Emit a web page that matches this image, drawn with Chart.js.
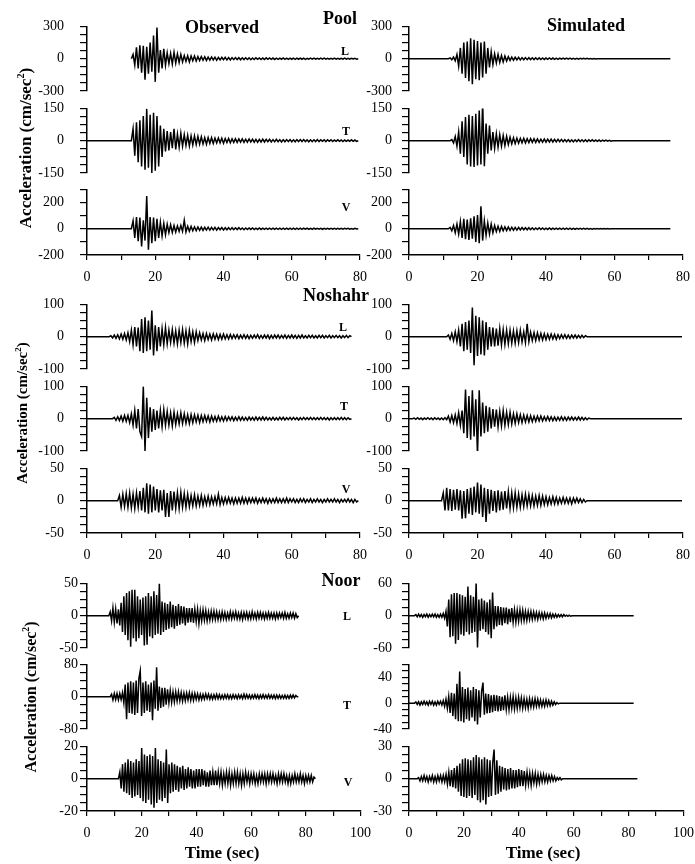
<!DOCTYPE html>
<html>
<head>
<meta charset="utf-8">
<script src="https://cdn.jsdelivr.net/npm/chart.js@4.4.1/dist/chart.umd.min.js"></script>
<style>
  html, body { margin: 0; padding: 0; background: #fff; }
  #page { position: relative; width: 695px; height: 864px; overflow: hidden;
          font-family: "Liberation Serif", "Times New Roman", serif; color: #000; }
  canvas { position: absolute; }
  .lbl { position: absolute; transform: translate(-50%, -50%); white-space: nowrap;
         font-weight: bold; line-height: 1; }
  .ytitle { position: absolute; transform: translate(-50%, -50%) rotate(-90deg);
            white-space: nowrap; font-weight: bold; line-height: 1; }
  .ytitle sup { font-size: 0.6em; }
</style>
</head>
<body>
<div id="page"></div>
<script>
// samples are 0.5 s apart, starting at the *Start time of each trace
const dt = 0.5;
const components = ['L', 'T', 'V'];

// ---------- Pool ----------
const poolXLabels = [0, 20, 40, 60, 80];
const poolYMin = [-300, -150, -200];
const poolYMax = [300, 150, 300];
const poolYStep = [75, 37.5, 100];
const poolYLabels = [[-300, 0, 300], [-150, 0, 150], [-200, 0, 200]];

const poolObsStart = [13, 13, 13];
const poolObsFrom = [13, 0, 0];
const poolObsEnd = [79.5, 79.5, 79.5];
const poolObsL = [
  0, 40, -60, 105, -90, 125, -130, 120, -195, 110, -140, 150, -120, 215, -215, 290, -130, 80, -90, 92,
  -60, 55, -45, 50, -50, 60, -40, 45, -35, 40, -30, 30, -25, 28, -30, 25, -20, 25, -22, 20,
  -18, 20, -15, 18, -16, 15, -14, 16, -12, 14, -15, 12, -12, 13, -10, 12, -11, 10, -12, 10,
  -9, 10, -8, 9, -10, 8, -8, 9, -7, 8, -9, 7, -8, 8, -6, 7, -8, 6, -7, 8,
  -6, 7, -6, 6, -7, 5, -6, 6, -5, 7, -6, 5, -6, 6, -5, 5, -6, 5, -5, 6,
  -5, 5, -6, 4, -5, 5, -4, 6, -5, 4, -5, 5, -4, 5, -5, 4, -5, 4, -4, 5,
  -4, 4, -5, 4, -4, 5, -4, 4, -4, 4, -3, 4, -4, 0];
const poolObsT = [
  0, 55, -70, 85, -100, 95, -120, 115, -135, 148, -125, 120, -150, 130, -140, 115, -120, 70, -75, 55,
  -50, 45, -45, 40, -35, 55, -40, 30, -30, 35, -25, 28, -22, 25, -24, 22, -20, 22, -18, 20,
  -16, 18, -15, 14, -16, 15, -12, 14, -13, 12, -11, 12, -10, 11, -12, 10, -9, 10, -10, 9,
  -8, 9, -8, 8, -7, 8, -8, 7, -7, 8, -6, 7, -7, 6, -7, 6, -6, 7, -6, 6,
  -5, 6, -6, 5, -5, 6, -5, 5, -6, 5, -5, 5, -4, 5, -5, 4, -5, 5, -4, 5,
  -4, 5, -4, 4, -5, 4, -4, 4, -4, 5, -4, 4, -3, 4, -4, 4, -3, 4, -4, 3,
  -3, 4, -3, 3, -4, 3, -3, 3, -3, 4, -3, 3, -3, 0];
const poolObsV = [
  0, 60, -70, 90, -95, 85, -135, 65, -90, 250, -160, 90, -110, 85, -95, 75, -70, 50, -55, 40,
  -45, 35, -30, 30, -28, 25, -25, 22, -20, 25, -20, 65, -25, 20, -18, 18, -16, 15, -15, 14,
  -12, 13, -12, 11, -10, 12, -10, 10, -9, 10, -10, 9, -8, 9, -9, 8, -8, 8, -7, 8,
  -7, 7, -6, 8, -6, 6, -7, 6, -6, 6, -5, 6, -6, 5, -5, 6, -5, 5, -5, 5,
  -5, 5, -4, 5, -5, 4, -4, 5, -4, 4, -5, 4, -4, 4, -4, 5, -4, 4, -4, 4,
  -4, 4, -3, 4, -4, 3, -4, 4, -3, 4, -3, 3, -4, 3, -3, 4, -3, 3, -3, 3,
  -3, 3, -3, 3, -3, 3, -2, 3, -3, 2, -3, 3, -2, 0];

const poolSimStart = [11.5, 12, 11.5];
const poolSimFrom = [0, 0, 0];
const poolSimEnd = [76.3, 76.3, 76.3];
const poolSimL = [
  0, 8, -10, 15, -20, 40, -70, 100, -140, 150, -180, 160, -210, 190, -237, 175, -190, 165, -200, 150,
  -175, 160, -140, 100, -80, 65, -55, 45, -40, 40, -35, 30, -30, 25, -22, 18, -16, 15, -14, 13,
  -12, 12, -11, 10, -10, 10, -9, 9, -8, 9, -8, 8, -7, 8, -7, 7, -7, 6, -6, 7,
  -6, 6, -6, 5, -6, 5, -5, 5, -5, 5, -4, 5, -4, 4, -4, 4, -4, 4, -3, 3,
  -3, 3, -3, 2, -2, 2, -2, 0];
const poolSimT = [
  0, 5, -10, 20, -25, 40, -60, 90, -75, 110, -110, 120, -120, 115, -122, 125, -115, 140, -110, 178,
  -118, 80, -60, 70, -45, 40, -35, 32, -30, 28, -25, 24, -22, 20, -18, 16, -15, 14, -14, 12,
  -12, 11, -10, 11, -10, 9, -9, 10, -8, 9, -8, 8, -8, 7, -7, 8, -7, 7, -6, 7,
  -6, 6, -6, 6, -5, 6, -5, 5, -5, 5, -5, 4, -5, 4, -4, 5, -4, 4, -4, 4,
  -4, 4, -3, 4, -3, 3, -3, 3, -3, 3, -2, 3, -2, 2, -2, 0];
const poolSimV = [
  0, 10, -15, 25, -30, 35, -40, 55, -70, 75, -80, 70, -85, 80, -75, 95, -100, 105, -110, 172,
  -90, 60, -50, 45, -40, 35, -30, 25, -22, 20, -20, 18, -16, 15, -14, 14, -12, 12, -11, 10,
  -10, 10, -9, 9, -8, 8, -8, 8, -7, 7, -7, 6, -6, 7, -6, 6, -6, 5, -5, 6,
  -5, 5, -5, 5, -5, 4, -4, 5, -4, 4, -4, 4, -4, 3, -4, 3, -3, 3, -3, 3,
  -3, 3, -3, 2, -3, 2, -2, 2, -2, 2, -2, 2, -2, 2, -1, 0];

// ---------- Noshahr ----------
const noshahrXLabels = [0, 20, 40, 60, 80];
const noshahrYMin = [-100, -100, -50];
const noshahrYMax = [100, 100, 50];
const noshahrYStep = [25, 25, 12.5];
const noshahrYLabels = [[-100, 0, 100], [-100, 0, 100], [-50, 0, 50]];

const noshahrObsStart = [6.5, 7.5, 9];
const noshahrObsFrom = [0, 0, 0];
const noshahrObsEnd = [77.6, 77.6, 79.5];
const noshahrObsL = [
  0, 3, -4, 5, -5, 6, -7, 8, -8, 10, -10, 12, -15, 20, -25, 30, -30, 28, -45, 55,
  -50, 60, -45, 50, -40, 81, -58, 35, -45, 30, -30, 25, -25, 28, -22, 20, -18, 22, -20, 18,
  -22, 20, -18, 22, -20, 18, -22, 20, -15, 15, -18, 15, -12, 12, -10, 10, -12, 10, -9, 8,
  -10, 9, -8, 8, -9, 7, -8, 8, -7, 6, -7, 7, -6, 6, -5, 6, -6, 5, -5, 6,
  -5, 5, -6, 4, -5, 5, -4, 6, -5, 4, -5, 5, -4, 5, -6, 4, -5, 5, -4, 5,
  -5, 4, -4, 5, -5, 4, -4, 5, -4, 4, -5, 4, -4, 5, -4, 3, -4, 4, -3, 4,
  -4, 3, -4, 4, -3, 4, -4, 3, -3, 4, -4, 3, -3, 4, -3, 3, -4, 3, -3, 4,
  -3, 3, 0];
const noshahrObsT = [
  0, 4, -5, 6, -6, 8, -8, 10, -8, 10, -12, 15, -20, 25, -30, 30, -40, -55, 100, -100,
  65, -60, 35, -40, 30, -35, 25, -30, 25, -25, 28, -20, 22, -20, 18, -22, 20, -18, 15, -16,
  18, -15, 15, -14, 12, -15, 13, -12, 12, -10, 11, -12, 10, -9, 10, -8, 9, -10, 8, -8,
  7, -8, 8, -7, 6, -7, 7, -6, 6, -5, 6, -6, 5, -5, 6, -5, 5, -5, 4, -5,
  5, -4, 4, -5, 5, -4, 4, -4, 5, -4, 4, -4, 3, -4, 4, -4, 3, -4, 4, -3,
  4, -4, 3, -3, 4, -3, 4, -3, 3, -4, 3, -3, 4, -3, 3, -3, 4, -3, 3, -3,
  3, -3, 4, -3, 3, -3, 3, -4, 3, -3, 3, -3, 3, -3, 4, -3, 3, -3, 3, -2,
  0];
const noshahrObsV = [
  0, 8, -10, 10, -9, 11, -10, 12, -11, 10, -12, 12, -10, 15, -15, 20, -18, 27, -20, 25,
  -18, 22, -15, 18, -18, 16, -15, 17, -25, 12, -25, 15, -15, 14, -12, 12, -12, 13, -10, 11,
  -10, 10, -9, 8, -8, 9, -8, 7, -7, 8, -7, 6, -6, 7, -6, 6, -5, 6, -5, 10,
  -6, 5, -5, 5, -4, 5, -4, 4, -5, 4, -4, 4, -4, 5, -4, 4, -4, 4, -3, 4,
  -3, 4, -4, 3, -3, 4, -3, 3, -4, 3, -3, 3, -3, 4, -3, 3, -3, 3, -3, 4,
  -3, 3, -2, 3, -3, 2, -3, 3, -2, 3, -3, 2, -2, 3, -3, 2, -2, 3, -2, 2,
  -3, 2, -2, 3, -2, 2, -2, 3, -2, 2, -3, 2, -2, 2, -2, 3, -2, 2, -3, 2,
  -2, 0];

const noshahrSimStart = [11, 1, 9.5];
const noshahrSimFrom = [0, 0, 0];
const noshahrSimEnd = [79.7, 79.7, 79.7];
const noshahrSimL = [
  0, 5, -8, 10, -12, 15, -15, 20, -30, 40, -45, 45, -40, 50, -50, 90, -88, 65, -60, 60,
  -55, 50, -58, 45, -40, 30, -30, 28, -30, 25, -28, 25, -25, 22, -24, 20, -22, 20, -20, 18,
  -20, 18, -18, 20, -16, 15, -18, 40, -15, 14, -12, 13, -12, 12, -10, 10, -10, 9, -9, 8,
  -8, 8, -7, 7, -8, 6, -6, 6, -5, 6, -5, 5, -5, 5, -4, 5, -4, 4, -4, 4,
  -3, 3, 0];
const noshahrSimT = [
  0, 2, -2, 3, -2, 2, -3, 2, -2, 3, -2, 2, -3, 3, -2, 2, -3, 2, -3, 3,
  -3, 8, -10, 10, -12, 12, -15, 18, -20, 25, -45, 90, -60, 70, -65, 88, -55, 60, -113, 88,
  -55, 50, -45, 40, -40, 35, -30, 30, -25, 28, -25, 22, -22, 25, -20, 20, -18, 20, -16, 15,
  -14, 15, -12, 12, -12, 11, -10, 10, -10, 9, -9, 8, -8, 8, -7, 8, -7, 6, -6, 7,
  -6, 6, -6, 5, -6, 5, -5, 6, -5, 5, -5, 5, -4, 5, -4, 4, -4, 5, -4, 4,
  -4, 3, -3, 2, 0];
const noshahrSimV = [
  0, 12, -15, 20, -15, 18, -16, 17, -14, 18, -15, 16, -28, 15, -27, 18, -20, 20, -22, 22,
  -18, 28, -20, 25, -25, 20, -33, 18, -20, 17, -16, 15, -18, 16, -15, 14, -14, 15, -12, 14,
  -12, 12, -11, 12, -10, 10, -10, 9, -9, 10, -8, 9, -8, 8, -8, 7, -7, 8, -7, 7,
  -6, 6, -6, 5, -5, 6, -5, 5, -5, 4, -4, 5, -4, 4, -4, 4, -5, 4, -3, 4,
  -3, 3, -3, 2, -2, 0];

// ---------- Noor ----------
const noorXLabels = [0, 20, 40, 60, 80, 100];
const noorObsYMin = [-50, -80, -20];
const noorObsYMax = [50, 80, 20];
const noorObsYStep = [12.5, 20, 5];
const noorObsYLabels = [[-50, 0, 50], [-80, 0, 80], [-20, 0, 20]];
const noorSimYMin = [-60, -40, -30];
const noorSimYMax = [60, 60, 30];
const noorSimYStep = [15, 10, 7.5];
const noorSimYLabels = [[-60, 0, 60], [-40, 0, 40], [-30, 0, 30]];

const noorObsStart = [8, 8.5, 11.5];
const noorObsFrom = [0, 0, 0];
const noorObsEnd = [77.4, 77.4, 83.5];
const noorObsL = [
  0, 6, -8, 12, -10, 10, -12, 10, -15, 20, -25, 30, -30, 35, -38, 38, -48, 40, -35, 40,
  -40, 30, -35, 25, -30, 28, -46, 30, -45, 35, -32, 30, -35, 38, -30, 32, -28, 50, -30, 22,
  -25, 20, -22, 18, -20, 22, -18, 17, -20, 15, -16, 18, -14, 15, -12, 14, -15, 12, -11, 12,
  -10, 12, -11, 10, -9, 10, -12, 8, -8, 9, -7, 8, -8, 6, -7, 7, -6, 7, -6, 6,
  -6, 5, -6, 6, -5, 5, -6, 4, -5, 6, -5, 5, -4, 6, -5, 4, -5, 5, -6, 5,
  -4, 5, -5, 4, -5, 6, -4, 4, -5, 5, -4, 5, -4, 4, -5, 4, -4, 5, -4, 4,
  -4, 4, -5, 4, -4, 4, -3, 4, -4, 5, -4, 3, -4, 4, -3, 4, -4, 3, -3, 0];
const noorObsT = [
  0, 6, -8, 8, -7, 8, -8, 8, -7, 10, -15, 30, -56, 35, -40, 38, -42, 35, -45, 40,
  -40, 45, 64, -48, 35, -40, 38, -35, 30, -38, 35, -58, 40, -30, 73, -35, 25, -28, 22, -25,
  22, -20, 18, -15, 15, -14, 12, -13, 12, -11, 12, -10, 10, -11, 9, -10, 9, -8, 10, -9,
  8, -9, 8, -7, 7, -8, 6, -7, 6, -6, 7, -5, 6, -6, 5, -6, 5, -5, 6, -5,
  5, -5, 4, -5, 5, -4, 5, -5, 4, -5, 5, -4, 4, -5, 5, -4, 4, -5, 6, -4,
  5, -4, 4, -5, 4, -4, 5, -4, 4, -5, 4, -4, 5, -4, 4, -4, 5, -4, 4, -4,
  4, -5, 4, -4, 4, -4, 3, -4, 4, -4, 3, -4, 4, -3, 4, -3, 3, 0];
const noorObsV = [
  0, 4, -6, 9, -8, 10, -9, 12, -10, 11, -12, 10, -11, 12, -10, 11, -12, 19, -14, 15,
  -15, 14, -13, 15, -16, 14, -18, 19, -15, 12, -13, 11, -14, 10, -12, 18, -15, 9, -9, 10,
  -8, 9, -7, 8, -8, 7, -6, 8, -7, 6, -6, 7, -5, 6, -6, 5, -6, 6, -5, 6,
  -5, 6, -4, 5, -5, 4, -5, 5, -4, 4, -4, 5, -4, 4, -3, 4, -4, 3, -3, 4,
  -3, 4, -4, 3, -3, 4, -3, 4, -3, 3, -4, 3, -3, 4, -2, 3, -3, 3, -2, 3,
  -3, 2, -3, 3, -2, 3, -2, 3, -3, 3, -2, 3, -2, 3, -2, 2, -3, 3, -2, 3,
  -2, 3, -2, 2, -3, 2, -3, 2, -2, 3, -2, 2, -2, 3, -2, 2, -3, 2, -2, 2,
  -2, 2, -2, 1, 0];

const noorSimStart = [2, 2, 3];
const noorSimFrom = [0, 0, 0];
const noorSimEnd = [82, 82, 83.2];
const noorSimL = [
  0, 2, -2, 3, -2, 2, -3, 2, -2, 3, -3, 2, -2, 3, -2, 3, -3, 2, -3, 3,
  -3, 4, -5, 8, -20, 30, -40, 40, -38, 42, -52, 42, -45, 40, -35, 38, -37, 35, -30, 54,
  -35, 38, -32, 35, -30, 62, -59, 30, -28, 32, -25, 28, -30, 25, -35, 30, -42, 43, -25, 18,
  -20, 18, -17, 16, -18, 15, -14, 15, -16, 13, -12, 14, -12, 11, -12, 10, -10, 11, -9, 10,
  -9, 8, -9, 8, -7, 8, -7, 7, -6, 6, -7, 6, -5, 5, -6, 5, -5, 4, -4, 4,
  -4, 3, -3, 3, -3, 2, -2, 2, -2, 2, -1, 1, -1, 1, -1, 0];
const noorSimT = [
  0, 2, -2, 2, -3, 2, -2, 3, -2, 2, -3, 3, -2, 3, -3, 2, -3, 3, -2, 3,
  -3, 4, -5, 6, -8, 10, -15, 16, -20, 15, -25, 30, -28, 49, -28, 25, -30, 22, -25, 24,
  -27, 20, -22, 25, -28, 22, -33, 20, -22, 18, 32, -18, 15, -16, 14, -15, 12, -14, 13, -12,
  12, -13, 11, -12, 10, -11, 12, -10, 9, -10, 9, -8, 10, -9, 8, -8, 9, -7, 8, -8,
  7, -7, 6, -8, 7, -6, 6, -6, 7, -5, 6, -5, 5, -5, 4, -5, 5, -4, 4, -4,
  3, -3, 2, -2, 1, -1, 0];
const noorSimV = [
  0, 1, -2, 2, -2, 3, -2, 2, -3, 2, -2, 3, -3, 2, -3, 3, -2, 3, -3, 3,
  -3, 4, -5, 6, -7, 8, -8, 10, -9, 12, -12, 14, -16, 18, -17, 19, -18, 18, -16, 17,
  -18, 20, -15, 22, -20, 20, -22, 18, -20, 20, -24, 18, -17, 17, -16, 15, 27, -15, 17, -14,
  12, -12, 11, -10, 10, -11, 9, -10, 10, -9, 8, -9, 8, -8, 9, -7, 8, -7, 7, -6,
  6, -5, 5, -6, 5, -4, 5, -5, 4, -4, 4, -3, 4, -3, 3, -3, 3, -2, 3, -2,
  2, -2, 1, -1, 1, -1, 0];

// ---------- layout ----------
const page = document.getElementById('page');
Chart.defaults.font.family = '"Liberation Serif", "Times New Roman", serif';
Chart.defaults.font.size = 14;
Chart.defaults.color = '#000';

const stations = [
  {
    name: 'Pool', xMax: 80, xLabels: poolXLabels,
    tops: [26, 108, 189], heights: [65, 65, 66], obsPad: 16,
    obs: { traces: [poolObsL, poolObsT, poolObsV], start: poolObsStart, from: poolObsFrom, end: poolObsEnd,
           yMin: poolYMin, yMax: poolYMax, yStep: poolYStep, yLabels: poolYLabels },
    sim: { traces: [poolSimL, poolSimT, poolSimV], start: poolSimStart, from: poolSimFrom, end: poolSimEnd,
           yMin: poolYMin, yMax: poolYMax, yStep: poolYStep, yLabels: poolYLabels }
  },
  {
    name: 'Noshahr', xMax: 80, xLabels: noshahrXLabels,
    tops: [304, 386, 468], heights: [65, 65, 65], obsPad: 16,
    obs: { traces: [noshahrObsL, noshahrObsT, noshahrObsV], start: noshahrObsStart, from: noshahrObsFrom, end: noshahrObsEnd,
           yMin: noshahrYMin, yMax: noshahrYMax, yStep: noshahrYStep, yLabels: noshahrYLabels },
    sim: { traces: [noshahrSimL, noshahrSimT, noshahrSimV], start: noshahrSimStart, from: noshahrSimFrom, end: noshahrSimEnd,
           yMin: noshahrYMin, yMax: noshahrYMax, yStep: noshahrYStep, yLabels: noshahrYLabels }
  },
  {
    name: 'Noor', xMax: 100, xLabels: noorXLabels,
    tops: [583, 664, 746], heights: [65, 65, 65], obsPad: 2,
    obs: { traces: [noorObsL, noorObsT, noorObsV], start: noorObsStart, from: noorObsFrom, end: noorObsEnd,
           yMin: noorObsYMin, yMax: noorObsYMax, yStep: noorObsYStep, yLabels: noorObsYLabels },
    sim: { traces: [noorSimL, noorSimT, noorSimV], start: noorSimStart, from: noorSimFrom, end: noorSimEnd,
           yMin: noorSimYMin, yMax: noorSimYMax, yStep: noorSimYStep, yLabels: noorSimYLabels }
  }
];

function tracePoints(values, start, from, end) {
  const pts = [];
  if (from < start) pts.push({ x: from, y: 0 });
  values.forEach((v, i) => pts.push({ x: start + i * dt, y: v }));
  const last = start + (values.length - 1) * dt;
  if (end > last) pts.push({ x: end, y: 0 });
  return pts;
}

const near = (list, v) => list.some(t => Math.abs(t - v) < 1e-6);

function panelConfig(o) {
  return {
    type: 'line',
    data: {
      datasets: [{
        data: o.points, borderColor: '#000', borderWidth: 1.5,
        pointRadius: 0, tension: 0, fill: false
      }]
    },
    options: {
      responsive: false,
      maintainAspectRatio: false,
      animation: false,
      events: [],
      layout: { padding: 0 },
      plugins: { legend: { display: false }, tooltip: { enabled: false } },
      scales: {
        x: {
          type: 'linear', min: 0, max: o.xMax, display: o.isBottom,
          afterFit: s => { s.height = 40; },
          ticks: {
            stepSize: 10, autoSkip: false, maxRotation: 0, padding: 9,
            callback: v => near(o.xLabels, v) ? String(v) : ''
          },
          grid: { drawOnChartArea: false, tickLength: 5, color: '#000', lineWidth: 1.2 },
          border: { color: '#000', width: 1.5 }
        },
        y: {
          type: 'linear', min: o.yMin, max: o.yMax,
          afterFit: s => { s.width = 70; },
          ticks: {
            stepSize: o.yStep, autoSkip: false, padding: o.labelPad,
            callback: v => near(o.yLabels, v) ? String(v) : ''
          },
          grid: { drawOnChartArea: false, tickLength: 7, color: '#000', lineWidth: 1.2 },
          border: { color: '#000', width: 1.5 }
        }
      }
    }
  };
}

// build once to measure where the plot area lands, then rebuild at the size that
// gives the wanted plot area and move the canvas so the axes sit where they should
function addPanel(o) {
  const probe = document.createElement('canvas');
  probe.width = 70 + o.plotW + 20;
  probe.height = o.h + (o.isBottom ? 60 : 30);
  page.appendChild(probe);
  const c0 = new Chart(probe, panelConfig(o));
  const a0 = c0.chartArea;
  const w = probe.width + o.plotW - (a0.right - a0.left);
  const h = probe.height + o.h - (a0.bottom - a0.top);
  c0.destroy();
  probe.remove();

  const cv = document.createElement('canvas');
  cv.width = Math.round(w);
  cv.height = Math.round(h);
  page.appendChild(cv);
  const chart = new Chart(cv, panelConfig(o));
  const a = chart.chartArea;
  cv.style.left = (o.axisX - a.left) + 'px';
  cv.style.top = (o.top - a.top) + 'px';
}

const columns = [
  { key: 'obs', axisX: 87, plotW: 273 },
  { key: 'sim', axisX: 409, plotW: 274 }
];

stations.forEach(st => {
  columns.forEach(col => {
    const d = st[col.key];
    components.forEach((c, k) => {
      addPanel({
        axisX: col.axisX, plotW: col.plotW,
        top: st.tops[k], h: st.heights[k], isBottom: k === 2,
        xMax: st.xMax, xLabels: st.xLabels,
        yMin: d.yMin[k], yMax: d.yMax[k], yStep: d.yStep[k], yLabels: d.yLabels[k],
        labelPad: col.key === 'obs' ? st.obsPad : 10,
        points: tracePoints(d.traces[k], d.start[k], d.from[k], d.end[k])
      });
    });
  });
});

// ---------- text ----------
function addText(html, x, y, size, cls) {
  const el = document.createElement('div');
  el.className = cls || 'lbl';
  el.innerHTML = html;
  el.style.left = x + 'px';
  el.style.top = y + 'px';
  el.style.fontSize = size + 'px';
  page.appendChild(el);
}

addText('Observed', 222, 27, 18);
addText('Simulated', 586, 25, 18);
addText('Pool', 340, 18, 18);
addText('Noshahr', 336, 295, 18);
addText('Noor', 341, 580, 18);

const compPos = [
  [[345, 51], [346, 131], [346, 207]],
  [[343, 327], [344, 406], [346, 489]],
  [[347, 616], [347, 705], [348, 782]]
];
compPos.forEach(rows => rows.forEach((p, k) => addText(components[k], p[0], p[1], 12)));

addText('Time (sec)', 222, 852, 17);
addText('Time (sec)', 543, 852, 17);

addText('Acceleration (cm/sec<sup>2</sup>)', 25, 148, 17, 'ytitle');
addText('Acceleration (cm/sec<sup>2</sup>)', 22, 413, 15, 'ytitle');
addText('Acceleration (cm/sec<sup>2</sup>)', 30, 697, 16, 'ytitle');
</script>
</body>
</html>
